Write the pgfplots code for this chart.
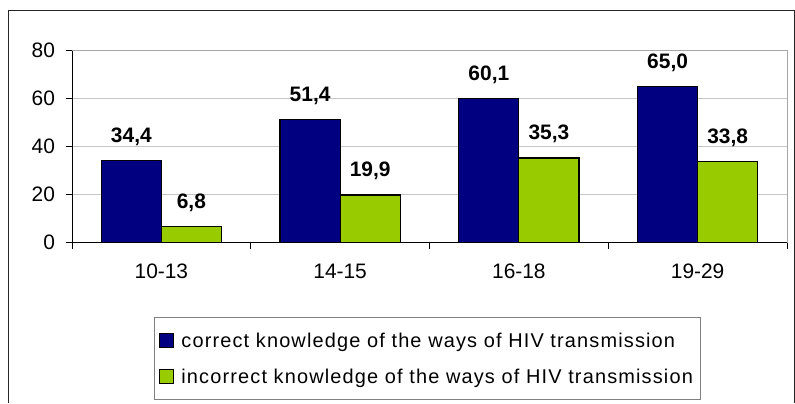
\documentclass[border=0pt]{standalone}
\usepackage{fontspec}
\setmainfont{Liberation Sans}
\newfontfamily\legfont[LetterSpace=5.8]{Liberation Sans}
\usepackage{pgfplots}
\pgfplotsset{compat=1.18}
\definecolor{navyb}{RGB}{0,0,128}
\definecolor{limeg}{RGB}{153,204,0}
\begin{document}
\begin{tikzpicture}[x=1bp,y=1bp]
\useasboundingbox (0,0) rectangle (795,403);
\draw[line width=1bp,black!85] (8.5,0) -- (8.5,392.5) -- (794.5,392.5) -- (794.5,0);
\begin{axis}[
  at={(72bp,160.3bp)}, anchor=south west,
  scale only axis, width=715bp, height=192bp,
  xmin=-0.5, xmax=3.5, ymin=0, ymax=80,
  ytick={0,20,40,60,80},
  xtick={-0.5,0.5,1.5,2.5,3.5},
  x tick label as interval,
  xticklabels={10-13,14-15,16-18,19-29},
  xtick pos=bottom, ytick pos=left,
  ymajorgrids, grid style={gray!45, line width=0.6bp},
  tick align=outside, major tick length=6bp,
  tick style={black, line width=0.8bp},
  axis line style={gray!70, line width=1bp},
  ticklabel style={font=\fontsize{21}{25}\selectfont},
  xticklabel style={yshift=-12bp},
  yticklabel style={xshift=-7.5bp},
  /pgf/number format/assume math mode=true,
  ybar, bar width=0.336,
  nodes near coords,
  nodes near coords style={font=\fontsize{21}{25}\selectfont\bfseries, anchor=base, yshift=18bp,
    /pgf/number format/.cd, fixed, fixed zerofill, precision=1, use comma, assume math mode=true},
  legend style={at={(0.1147,-0.819)}, anchor=south west, draw=gray, line width=0.8bp,
    font=\fontsize{20}{24}\selectfont\legfont, row sep=16bp, inner xsep=5bp, inner ysep=13bp},
  legend cell align=left,
  legend image code/.code={\draw[#1, line width=0.8bp] (0bp,-7bp) rectangle (14bp,7bp); \path (19bp,0);},
]
\addplot[fill=navyb, draw=black, line width=1.2bp, bar shift=-0.168]
  coordinates {(0,34.4) (1,51.4) (2,60.1) (3,65.0)};
\addplot[fill=limeg, draw=black, line width=1.2bp, bar shift=0.168]
  coordinates {(0,6.8) (1,19.9) (2,35.3) (3,33.8)};
\legend{correct knowledge of the ways of HIV transmission, incorrect knowledge of the ways of HIV transmission}
\draw[black, line width=1bp] (rel axis cs:0,1) -- (rel axis cs:0,0) -- (rel axis cs:1,0);
\end{axis}
\end{tikzpicture}
\end{document}
